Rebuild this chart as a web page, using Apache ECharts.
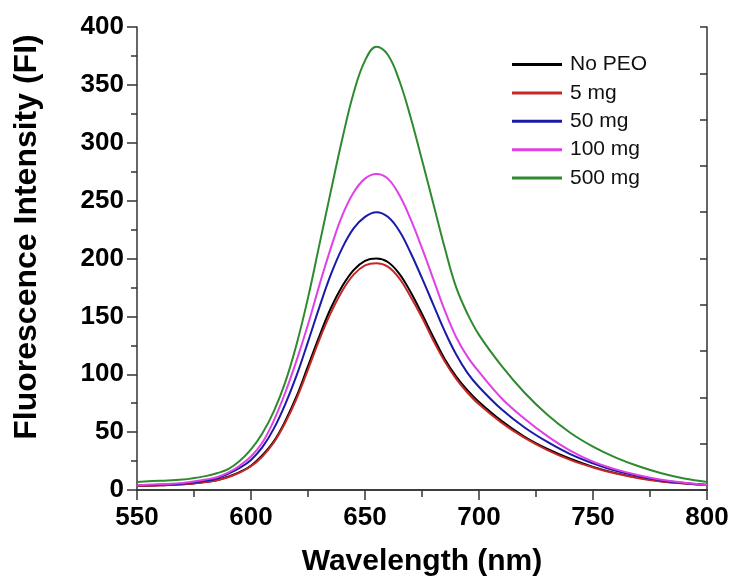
<!DOCTYPE html>
<html>
<head>
<meta charset="utf-8">
<script src="https://cdn.jsdelivr.net/npm/echarts@6/dist/echarts.min.js"></script>
<style>
  html, body { margin: 0; padding: 0; background: #fff; }
  #chart { width: 734px; height: 583px; }
</style>
</head>
<body>
<div id="chart"></div>
<script>
// Emission spectra: wavelength (nm) vs fluorescence intensity for each PEO loading
const wavelength = [550,560,570,580,585,590,595,600,605,610,615,620,625,630,635,640,645,650,655,660,665,670,675,680,685,690,695,700,710,720,730,740,750,760,770,780,790,800];

const noPEO  = [3.5,4,5,7,8.5,11.5,15.5,21,30,42,59.5,81,107,133,157,176,190,198,200,197,187,171,152,132,113,98,86,76,59.5,46,35.5,27,20,14.6,10.5,7.6,5.8,4.3];
const peo5   = [3.5,4,5,7,8.5,11,15,20.5,29,41,58,79,104,130,153,172,186,194,196,193,183,167,149,129,111,96,84,74,58,45,34.5,26,19.5,14.2,10.2,7.4,5.6,4.3];
const peo50  = [4,4.5,5.5,8,10,14,19,26,37,53,74,99,128,158,186,209,226,236,240,236,224,205,183,160,137,117,101,89,69.5,54,41.5,31,23,16.5,12,8.3,6,4.3];
const peo100 = [4,5,6,9,11,15,21,29,41,60,84,112,143,177,209,237,257,269,273,269,255,234,209,182,155,132,115,102,79,61.5,46.5,34,24.5,17.8,12.7,8.9,6.3,4.3];
const peo500 = [7,8,9,12,14.5,18,25,35,49,68,93,126,166,212,258,303,343,371,383,376,354,322,285,247,209,175,152,134,107,84,65,49.5,37.5,28,20.5,14.5,10,7];

const seriesNames = ['No PEO', '5 mg', '50 mg', '100 mg', '500 mg'];
const seriesValues = [noPEO, peo5, peo50, peo100, peo500];
const seriesColors = ['#000000', '#c62828', '#1a1aa8', '#e040e6', '#2e8a2e'];

const xTicks = { min: 550, max: 800, step: 50 };
const yTicks = { min: 0, max: 400, step: 50 };

const FONT = "'Liberation Sans', Arial, sans-serif";
const AXIS_COLOR = '#333';

const chart = echarts.init(document.getElementById('chart'), null, { renderer: 'canvas' });

const series = seriesNames.map((name, i) => ({
  name,
  type: 'line',
  xAxisIndex: 0,
  yAxisIndex: 0,
  data: wavelength.map((w, j) => [w, seriesValues[i][j]]),
  smooth: 0.4,
  showSymbol: false,
  lineStyle: { width: 2, color: seriesColors[i] },
  itemStyle: { color: seriesColors[i] },
  z: 2 + i
}));

chart.setOption({
  animation: false,
  backgroundColor: '#fff',
  grid: { left: 137, right: 27, top: 27, bottom: 93, containLabel: false, outerBoundsMode: 'none' },
  legend: {
    data: seriesNames,
    orient: 'vertical',
    left: 512,
    top: 53.5,
    padding: 0,
    icon: 'rect',
    itemWidth: 50,
    itemHeight: 3,
    itemGap: 6.4,
    textStyle: { fontFamily: FONT, fontSize: 21, color: '#111', lineHeight: 22, padding: [0, 0, 0, 3] }
  },
  xAxis: [
    {
      type: 'value',
      position: 'bottom',
      min: xTicks.min, max: xTicks.max, interval: xTicks.step,
      name: 'Wavelength (nm)',
      nameLocation: 'middle',
      nameGap: 57,
      nameTextStyle: { fontFamily: FONT, fontSize: 30, fontWeight: 'bold', color: '#000' },
      axisLine: { show: true, lineStyle: { color: AXIS_COLOR, width: 1.5 } },
      axisTick: { show: true, inside: false, length: 10, lineStyle: { color: AXIS_COLOR, width: 1.5 } },
      minorTick: { show: true, splitNumber: 2, length: 6, lineStyle: { color: AXIS_COLOR, width: 1.5 } },
      axisLabel: { fontFamily: FONT, fontSize: 26, fontWeight: 'bold', color: '#000', margin: 15 },
      splitLine: { show: false }
    },
    {
      type: 'value',
      position: 'top',
      min: xTicks.min, max: xTicks.max, interval: 25,
      axisLine: { show: true, lineStyle: { color: AXIS_COLOR, width: 1.5 } },
      axisTick: { show: true, inside: true, length: 7, lineStyle: { color: AXIS_COLOR, width: 1.5 } },
      axisLabel: { show: false },
      splitLine: { show: false }
    }
  ],
  yAxis: [
    {
      type: 'value',
      position: 'left',
      min: yTicks.min, max: yTicks.max, interval: yTicks.step,
      axisLine: { show: true, lineStyle: { color: AXIS_COLOR, width: 1.5 } },
      axisTick: { show: true, inside: false, length: 10, lineStyle: { color: AXIS_COLOR, width: 1.5 } },
      minorTick: { show: true, splitNumber: 2, length: 6, lineStyle: { color: AXIS_COLOR, width: 1.5 } },
      axisLabel: { fontFamily: FONT, fontSize: 26, fontWeight: 'bold', color: '#000', margin: 13 },
      splitLine: { show: false }
    },
    {
      type: 'value',
      position: 'right',
      min: 0, max: 400, interval: 40,
      axisLine: { show: true, lineStyle: { color: AXIS_COLOR, width: 1.5 } },
      axisTick: { show: true, inside: true, length: 7, lineStyle: { color: AXIS_COLOR, width: 1.5 } },
      axisLabel: { show: false },
      splitLine: { show: false }
    }
  ],
  graphic: [
    {
      type: 'text',
      x: 27,
      y: 237,
      rotation: Math.PI / 2,
      style: {
        text: 'Fluorescence Intensity (FI)',
        fontFamily: FONT,
        fontSize: 32,
        fontWeight: 'bold',
        fill: '#000',
        align: 'center',
        verticalAlign: 'middle'
      }
    }
  ],
  series
});
</script>
</body>
</html>
